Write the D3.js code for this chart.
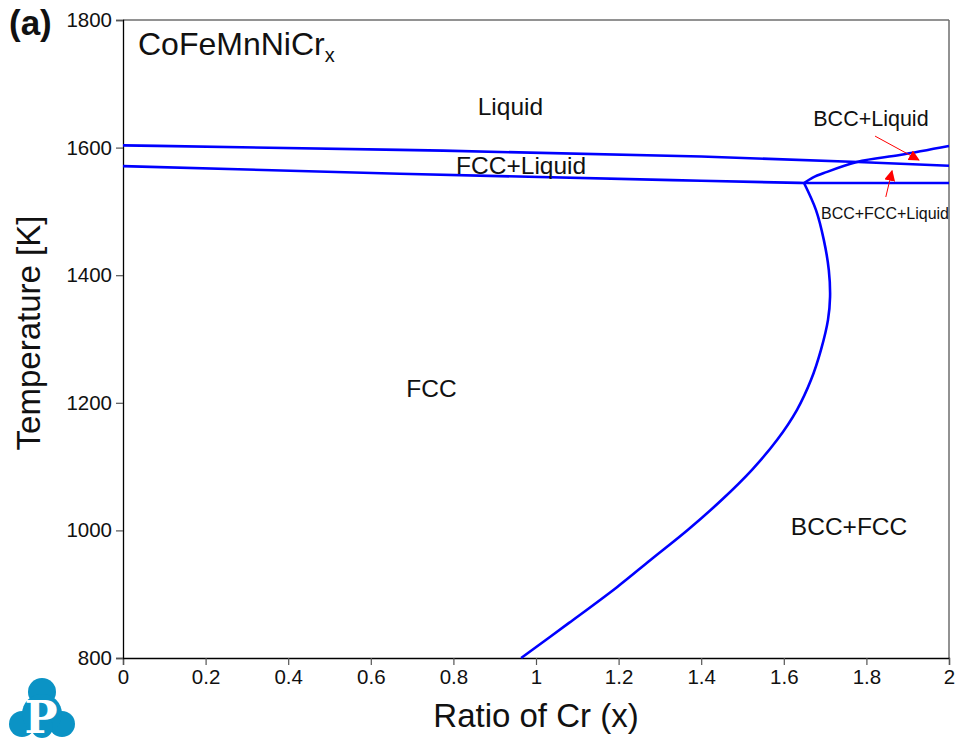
<!DOCTYPE html>
<html>
<head>
<meta charset="utf-8">
<script src="https://cdn.jsdelivr.net/npm/d3@7"></script>
<style>
  body { margin: 0; background: #fff; }
  svg text { font-family: "Liberation Sans", Arial, sans-serif; }
</style>
</head>
<body>
<div id="chart-container"></div>
<script>
// phase boundaries: [ratio of Cr, temperature K]
var fccLiquidus = [[0, 1603.5], [0.67, 1596.5], [1.4, 1586], [1.78, 1577.5], [2, 1571.5]];
var fccSolidus = [[0, 1571], [0.67, 1559], [1.4, 1548], [1.649, 1544.5]];
var threePhase = [[1.649, 1544.5], [2, 1544.5]];
var bccLiquidus = [[1.649, 1544.5], [1.67, 1553], [1.705, 1562], [1.777, 1577.4], [1.881, 1588.4], [2, 1602.5]];
var bccSolvus = [[1.649, 1544.5], [1.678, 1502], [1.697, 1455], [1.709, 1408], [1.712, 1366],
    [1.707, 1330], [1.690, 1283], [1.666, 1236], [1.632, 1189], [1.584, 1142], [1.523, 1095],
    [1.450, 1048], [1.368, 1001], [1.278, 954], [1.196, 911], [1.080, 855], [0.964, 800]];

var xTicks = [0, 0.2, 0.4, 0.6, 0.8, 1, 1.2, 1.4, 1.6, 1.8, 2];
var yTicks = [800, 1000, 1200, 1400, 1600, 1800];

// region labels: [text, x, T, font size]
var regionLabels = [
    ["Liquid", 0.938, 1651, 24.5],
    ["FCC+Liquid", 0.964, 1558.5, 24.5],
    ["BCC+Liquid", 1.811, 1634, 21.5],
    ["BCC+FCC+Liquid", 1.845, 1488, 16],
    ["FCC", 0.747, 1209, 24.5],
    ["BCC+FCC", 1.758, 993, 24.5]
];
// red arrows: [x0, T0, x1, T1]
var arrows = [[1.821, 1618, 1.927, 1580.6], [1.847, 1522.6, 1.862, 1563.5]];

var margin = {top: 20, right: 11, bottom: 84, left: 123};
var width = 960 - margin.left - margin.right,
    height = 742 - margin.top - margin.bottom;

var root = d3.select("#chart-container")
    .append("svg")
    .attr("width", 960)
    .attr("height", 742);

var svg = root.append("g")
    .attr("transform", "translate(" + margin.left + "," + margin.top + ")");

var x = d3.scaleLinear().domain([0, 2]).range([0, width]);
var y = d3.scaleLinear().domain([800, 1800]).range([height, 0]);

// frame: top/right grey
svg.append("line").attr("x1", 0).attr("x2", width).attr("y1", 0).attr("y2", 0)
    .attr("stroke", "#6e6e6e").attr("stroke-width", 1.5);
svg.append("line").attr("x1", width).attr("x2", width).attr("y1", 0).attr("y2", height)
    .attr("stroke", "#6e6e6e").attr("stroke-width", 1.5);

var xAxis = svg.append("g")
    .attr("class", "x-axis")
    .attr("transform", "translate(0," + height + ")")
    .call(d3.axisBottom(x).tickValues(xTicks).tickSize(7).tickPadding(4)
        .tickFormat(d3.format("~g")));

var yAxis = svg.append("g")
    .attr("class", "y-axis")
    .call(d3.axisLeft(y).tickValues(yTicks).tickSize(7).tickPadding(4)
        .tickFormat(d3.format("d")));

[xAxis, yAxis].forEach(function(ax) {
    ax.select(".domain").attr("stroke", "#000").attr("stroke-width", 1.3);
    ax.selectAll(".tick line").attr("stroke", "#555").attr("stroke-width", 1.2);
    ax.selectAll(".tick text").attr("fill", "#111").style("font-size", "20.5px")
        .style("font-family", "Liberation Sans, Arial, sans-serif");
});

var line = d3.line()
    .x(function(d) { return x(d[0]); })
    .y(function(d) { return y(d[1]); })
    .curve(d3.curveMonotoneX);

[fccLiquidus, fccSolidus, threePhase, bccLiquidus].forEach(function(data) {
    svg.append("path")
        .datum(data)
        .attr("fill", "none")
        .attr("stroke", "#0000ff")
        .attr("stroke-width", 2.6)
        .attr("d", line);
});

svg.append("path")
    .datum(bccSolvus)
    .attr("fill", "none")
    .attr("stroke", "#0000ff")
    .attr("stroke-width", 2.6)
    .attr("d", d3.line()
        .x(function(d) { return x(d[0]); })
        .y(function(d) { return y(d[1]); })
        .curve(d3.curveCatmullRom.alpha(0.5)));

regionLabels.forEach(function(l) {
    svg.append("text")
        .attr("x", x(l[1]))
        .attr("y", y(l[2]))
        .attr("text-anchor", "middle")
        .style("font-size", l[3] + "px")
        .attr("fill", "#111")
        .text(l[0]);
});

// arrows
root.append("defs").append("marker")
    .attr("id", "head")
    .attr("viewBox", "0 0 10 10")
    .attr("refX", 9).attr("refY", 5)
    .attr("markerWidth", 11).attr("markerHeight", 11)
    .attr("markerUnits", "userSpaceOnUse")
    .attr("orient", "auto")
    .append("path")
    .attr("d", "M0,0 L10,5 L0,10 Z")
    .attr("fill", "#ff0000");

arrows.forEach(function(a) {
    svg.append("line")
        .attr("x1", x(a[0])).attr("y1", y(a[1]))
        .attr("x2", x(a[2])).attr("y2", y(a[3]))
        .attr("stroke", "#ff0000")
        .attr("stroke-width", 1)
        .attr("marker-end", "url(#head)");
});

// composition title
var comp = svg.append("text")
    .attr("x", 15)
    .attr("y", 35)
    .style("font-size", "32px")
    .attr("fill", "#111")
    .text("CoFeMnNiCr");
comp.append("tspan")
    .attr("dy", 7)
    .style("font-size", "20px")
    .text("x");

// axis titles
root.append("text")
    .attr("x", margin.left + width / 2)
    .attr("y", 727)
    .attr("text-anchor", "middle")
    .style("font-size", "33px")
    .attr("fill", "#111")
    .text("Ratio of Cr (x)");

root.append("text")
    .attr("transform", "rotate(-90)")
    .attr("x", -333)
    .attr("y", 40)
    .attr("text-anchor", "middle")
    .style("font-size", "33px")
    .attr("fill", "#111")
    .text("Temperature [K]");

root.append("text")
    .attr("x", 9)
    .attr("y", 35)
    .style("font-size", "35px")
    .style("font-weight", "bold")
    .attr("fill", "#111")
    .text("(a)");

// logo
var logo = root.append("g").attr("fill", "#0b93c5");
[[42, 692, 14], [22, 724, 13], [62, 724, 13], [42, 714, 20], [42, 727, 11]].forEach(function(c) {
    logo.append("circle").attr("cx", c[0]).attr("cy", c[1]).attr("r", c[2]);
});
root.append("text")
    .attr("x", 41)
    .attr("y", 733)
    .attr("text-anchor", "middle")
    .style("font-family", "DejaVu Serif, serif")
    .style("font-weight", "bold")
    .style("font-size", "44px")
    .attr("fill", "#fff")
    .text("P");
</script>
</body>
</html>
